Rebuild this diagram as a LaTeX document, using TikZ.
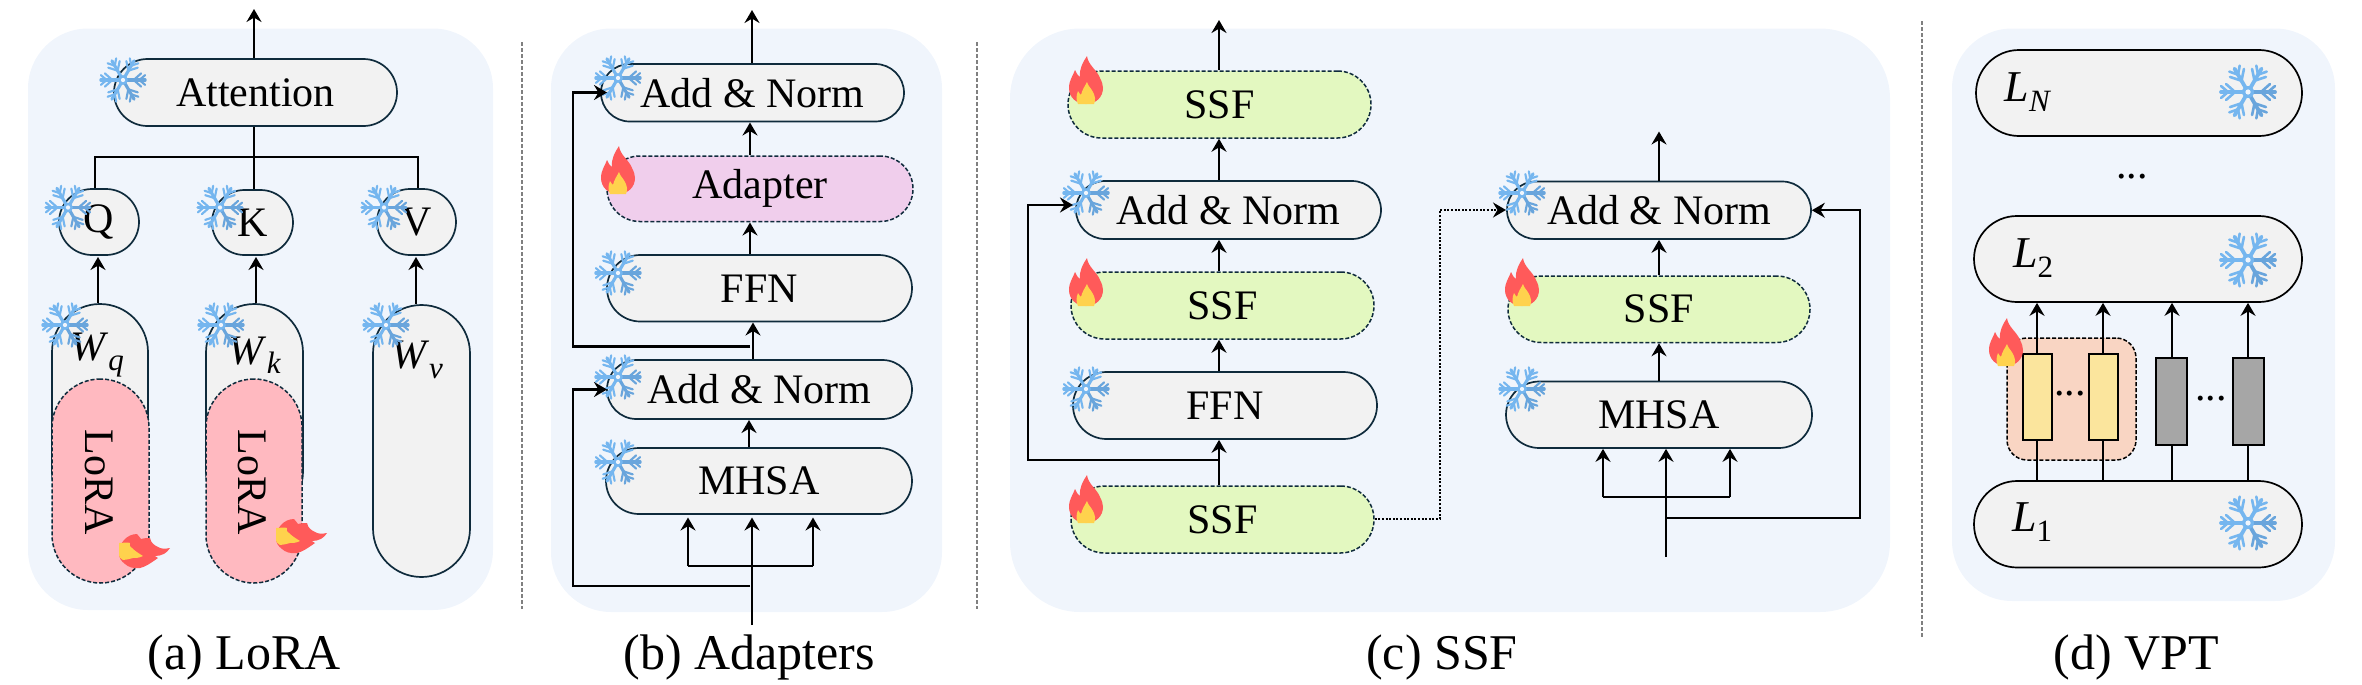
\documentclass[tikz,border=0pt]{standalone}
\usepackage{fontspec}
\setmainfont{Liberation Serif}
\usetikzlibrary{arrows.meta}
\definecolor{panelc}{HTML}{F0F5FC}
\definecolor{grayc}{HTML}{F2F2F2}
\definecolor{linec}{HTML}{0F2B3C}
\definecolor{lorac}{HTML}{FFB9C0}
\definecolor{adapc}{HTML}{F0CEEC}
\definecolor{ssfc}{HTML}{E3F8C0}
\definecolor{promptc}{HTML}{F9D5C3}
\definecolor{yellowc}{HTML}{FBE59D}
\definecolor{darkc}{HTML}{A6A6A6}
\definecolor{snowa}{HTML}{75B6EF}
\definecolor{snowb}{HTML}{69A5DC}
\definecolor{firea}{HTML}{FF5A5A}
\definecolor{fireb}{HTML}{FFD24D}
\definecolor{divc}{HTML}{808080}
\tikzset{
  panel/.style={fill=panelc,draw=none},
  frozen/.style={draw=linec,fill=grayc,line width=0.85pt,font=\fontsize{21}{24}\selectfont},
  train/.style={draw=linec,line width=0.75pt,dash pattern=on 2pt off 1pt,font=\fontsize{21}{24}\selectfont},
  plain/.style={inner sep=0pt,font=\fontsize{21}{24}\selectfont},
  caption/.style={inner sep=0pt,anchor=base,font=\fontsize{25}{28}\selectfont},
  arr/.style={-{Stealth[length=6.5pt,width=7.5pt,inset=2.2pt]},line width=1.05pt,black},
  conn/.style={line width=1.05pt,black},
  divider/.style={draw=divc,line width=1.4pt,dash pattern=on 2pt off 1pt},
  token/.style={draw=black,line width=1pt,inner sep=0pt},
}
\newcommand\pill[7]{%
  \pgfmathsetmacro\pilw{(#5-#3)*0.5}\pgfmathsetmacro\pilh{(#6-#4)*0.5}%
  \pgfmathsetmacro\pilr{min(\pilw,\pilh)/2}%
  \node[#1,rectangle,rounded corners=\pilr pt,minimum width=\pilw pt,minimum height=\pilh pt,inner sep=0pt] (#2) at ({(#3+#5)/2},{(#4+#6)/2}) {\raisebox{-0.8pt}{#7}};}
\newcommand\tok[6]{%
  \pgfmathsetmacro\pilw{(#5-#3)*0.5}\pgfmathsetmacro\pilh{(#6-#4)*0.5}%
  \node[token,fill=#1,minimum width=\pilw pt,minimum height=\pilh pt] (#2) at ({(#3+#5)/2},{(#4+#6)/2}) {};}
\newcommand\snow[3]{%
  \pgfmathsetmacro\snf{#3/28}\pgfmathsetmacro\snw{1.9*\snf}\pgfmathsetmacro\snv{1.3*\snf}%
  \begin{scope}[shift={(#1,#2)},scale=\snf,line cap=round]
    \foreach \a/\c in {60/snowa,120/snowa,180/snowa,240/snowa,300/snowb,0/snowb}{
      \begin{scope}[rotate=\a]
        \draw[\c,line width=\snw pt] (0,0) -- (27,0);
        \draw[\c,line width=\snv pt] (13,0) -- (22,8) (13,0) -- (22,-8) (20,0) -- (27,6) (20,0) -- (27,-6);
      \end{scope}}
    \fill[snowa] (0,0) circle (6);
    \fill[panelc] (0,0) circle (2.6);
  \end{scope}}
\newcommand\flame[2]{%
  \begin{scope}[shift={(#1,#2)}]
    \fill[firea] (0,24) .. controls (-10,24) and (-17,17) .. (-17,8) .. controls (-17,0) and (-13,-4) .. (-11,-10) .. controls (-9,-6) and (-8,-4) .. (-6,-3) .. controls (-7,-11) and (-3,-18) .. (1,-24) .. controls (2,-15) and (11,-10) .. (14,-2) .. controls (16,2) and (17,5) .. (17,8) .. controls (17,17) and (10,24) .. (0,24) -- cycle;
    \fill[fireb] (-8,24) .. controls (-10,20) and (-10,16) .. (-8,11) .. controls (-7,13) and (-6,14) .. (-5,15) .. controls (-4,10) and (-1,6) .. (1,2) .. controls (2,6) and (5,8) .. (7,12) .. controls (9,16) and (10,20) .. (8,24) -- cycle;
  \end{scope}}
\newcommand\comet[2]{%
  \begin{scope}[shift={(#1,#2)}]
    \fill[firea] (-26,0) .. controls (-26,-10) and (-18,-19) .. (-8,-19) .. controls (-6,-17) and (-5,-15) .. (-4,-14) .. controls (0,-15) and (2,-15) .. (5,-15) .. controls (6,-10) and (9,-8) .. (13,-6) .. controls (16,-4) and (20,-4) .. (25,-5) .. controls (22,0) and (17,3) .. (10,3) .. controls (11,4) and (12,4) .. (13,5) .. controls (6,10) and (0,14) .. (-5,15) .. controls (-11,16) and (-17,14) .. (-20,11) .. controls (-24,8) and (-26,5) .. (-26,0) -- cycle;
    \fill[fireb] (-26,-10) .. controls (-22,-10) and (-18,-11) .. (-15,-10) .. controls (-16,-8) and (-15,-6) .. (-13,-5) .. controls (-9,-1) and (-5,1) .. (-2,3) .. controls (-6,5) and (-9,5) .. (-12,5) .. controls (-16,6) and (-19,7) .. (-22,7) .. controls (-25,6) and (-26,4) .. (-26,0) -- cycle;
  \end{scope}}
\newcommand\mysub[1]{\raisebox{-0.22em}{\fontsize{15.5}{18}\selectfont #1}}
\begin{document}
\begin{tikzpicture}[x=0.5pt,y=-0.5pt]
\useasboundingbox (0,0) rectangle (2362,685);
% panels
\path[panel] (28,28.5) [rounded corners=30pt] rectangle (493,610);
\path[panel] (551,28.5) [rounded corners=30pt] rectangle (942,612);
\path[panel] (1010,28.5) [rounded corners=35pt] rectangle (1890,612);
\path[panel] (1952,28.5) [rounded corners=30pt] rectangle (2335,601);
% dividers
\coordinate (d1a) at (522,42); \coordinate (d1b) at (522,609);
\coordinate (d2a) at (977,42); \coordinate (d2b) at (977,609);
\coordinate (d3a) at (1922,21); \coordinate (d3b) at (1922,638);
\draw[divider] (d1a) -- (d1b);
\draw[divider] (d2a) -- (d2b);
\draw[divider] (d3a) -- (d3b);
% (a) LoRA
\pill{frozen}{att}{114}{59}{397}{126}{Attention}
\pill{frozen}{q}{59}{189}{139}{255}{Q}
\pill{frozen}{k}{212}{190}{293}{255}{K}
\pill{frozen}{v}{377}{189}{456}{255}{V}
\pill{frozen}{wq}{52}{304}{148}{520}{}
\pill{frozen}{wk}{206}{304}{303}{520}{}
\pill{frozen}{wv}{373}{305}{470}{577}{}
\pill{train,fill=lorac}{la}{52}{379}{149}{583}{}
\pill{train,fill=lorac}{lb}{206}{379}{302}{583}{}
\node[plain,rotate=-90] (lat) at (99,482) {LoRA};
\node[plain,rotate=-90] (lbt) at (252,482) {LoRA};
\node[plain] (wqt) at (97,355) {\textit{W}\mysub{\textit{q}}};
\node[plain] (wkt) at (255,355) {\textit{W}\mysub{\textit{k}}};
\node[plain] (wvt) at (417,360) {\textit{W}\mysub{\textit{v}}};
\snow{123}{80}{23}
\snow{68}{207.5}{23}
\snow{220}{207.5}{23}
\snow{384}{207.5}{23}
\snow{65}{325}{23}
\snow{221}{325}{23}
\snow{386}{325}{23}
\comet{145}{553}
\comet{302}{538}
\coordinate (atop) at (254,9);
\coordinate (hq) at (95,156.6);
\coordinate (hv) at (418,156.6);
\draw[arr] (att.north -| atop) -- (atop);
\draw[conn] (att.south -| atop) -- (k.north -| atop);
\draw[conn] (q.north -| hq) -- (hq) -- (hv) -- (v.north -| hv);
\draw[arr] (wq.north -| 98,0) -- (98,257);
\draw[arr] (wk.north -| 256,0) -- (256,257);
\draw[arr] (wv.north -| 416,0) -- (416,257);
% (b) Adapters
\pill{frozen}{ban}{601}{64}{904}{121.5}{Add \& Norm}
\pill{train,fill=adapc}{bad}{607}{156}{913}{221.5}{Adapter}
\pill{frozen}{bff}{607}{255}{912}{321.5}{FFN}
\pill{frozen}{bam}{607}{360}{912}{419}{Add \& Norm}
\pill{frozen}{bmh}{606}{448}{912}{514}{MHSA}
\snow{618}{78}{23}
\snow{618}{273}{23}
\snow{618}{377}{23}
\snow{618}{462}{23}
\flame{618}{170}
\coordinate (btop) at (752,10);
\coordinate (bin) at (752,625);
\coordinate (bmid1) at (750,346.5);
\coordinate (bl1) at (573,346.5);
\coordinate (bt1) at (607,92.5);
\coordinate (bmid2) at (750,586);
\coordinate (bl2) at (573,586);
\coordinate (bt2) at (607,389.5);
\coordinate (bbl) at (688,566);
\coordinate (bbr) at (813,566);
\draw[arr] (ban.north -| btop) -- (btop);
\draw[arr] (bad.north -| 750,0) -- (750,122.5);
\draw[arr] (bff.north -| 750,0) -- (750,222.5);
\draw[arr] (bam.north -| 753,0) -- (753,322.5);
\draw[arr] (bmh.north -| 749,0) -- (749,420);
\draw[arr] (bmid1) -- (bl1) |- (bt1);
\draw[arr] (bmid2) -- (bl2) |- (bt2);
\draw[arr,line width=1.3pt] (bin) -- (752,517.5);
\draw[arr,line width=1.3pt] (bbr) -- (813,517.5);
\draw[arr,line width=1.3pt] (bbl) -- (688,517.5);
\draw[conn,line width=1.3pt] (bbl) -- (bbr);
% (c) SSF
\pill{train,fill=ssfc}{cs1}{1068}{71}{1371}{138}{SSF}
\pill{frozen}{can}{1076}{181}{1381}{239}{Add \& Norm}
\pill{train,fill=ssfc}{cs2}{1071}{272}{1374}{339}{SSF}
\pill{frozen}{cff}{1073}{372}{1377}{439}{FFN}
\pill{train,fill=ssfc}{cs3}{1071}{486}{1374}{553}{SSF}
\pill{frozen}{ran}{1507}{181.5}{1811}{239}{Add \& Norm}
\pill{train,fill=ssfc}{rs}{1508}{276}{1810}{342.5}{SSF}
\pill{frozen}{rmh}{1506}{381.5}{1812}{448}{MHSA}
\snow{1086}{193}{23}
\snow{1086}{389}{23}
\snow{1522}{193}{23}
\snow{1522}{389}{23}
\flame{1086}{80}
\flame{1086}{282}
\flame{1086}{499}
\flame{1522}{282}
\coordinate (ctop) at (1219,20);
\coordinate (rtop) at (1659,131.5);
\coordinate (cm) at (1219,460);
\coordinate (cl) at (1028,460);
\coordinate (ct) at (1073,205);
\coordinate (dx) at (1440,519);
\coordinate (dt) at (1506,210);
\coordinate (rin) at (1666,557);
\coordinate (rbl) at (1603,497);
\coordinate (rbr) at (1730,497);
\coordinate (rm) at (1666,518);
\coordinate (rx) at (1860,518);
\draw[arr] (cs1.north -| ctop) -- (ctop);
\draw[arr] (can.north -| ctop) -- (cs1.south -| ctop);
\draw[arr] (cs2.north -| ctop) -- (can.south -| ctop);
\draw[arr] (cff.north -| ctop) -- (cs2.south -| ctop);
\draw[arr] (cs3.north -| ctop) -- (cff.south -| ctop);
\draw[arr] (cm) -- (cl) |- (ct);
\draw[line width=0.9pt,dash pattern=on 1pt off 0.8pt,-{Stealth[length=6.5pt,width=7.5pt,inset=2.2pt]}] (cs3.east |- dx) -- (dx) |- (dt);
\draw[arr] (ran.north -| rtop) -- (rtop);
\draw[arr] (rs.north -| rtop) -- (ran.south -| rtop);
\draw[arr] (rmh.north -| rtop) -- (rs.south -| rtop);
\draw[arr] (rin) -- (rmh.south -| rin);
\draw[arr] (rbl) -- (rmh.south -| rbl);
\draw[arr] (rbr) -- (rmh.south -| rbr);
\draw[conn] (rbl) -- (rbr);
\draw[arr] (rm) -- (rx) |- (ran.east);
% (d) VPT
\pill{frozen,draw=black}{ln}{1976}{50}{2302}{136}{}
\pill{frozen,draw=black}{ltwo}{1974}{216}{2302}{302}{}
\pill{frozen,draw=black}{lone}{1974}{481}{2302}{567.5}{}
\node[draw=black,line width=0.75pt,dash pattern=on 2pt off 1pt,fill=promptc,rounded corners=10pt,inner sep=0pt,minimum width=64.5pt,minimum height=61pt] (pr) at (2071.5,399) {};
\tok{yellowc}{y1}{2023}{354}{2052}{440}
\tok{yellowc}{y2}{2089}{354}{2118}{440}
\tok{darkc}{g1}{2156}{358}{2187}{445}
\tok{darkc}{g2}{2233}{358}{2264}{445}
\node[plain,font=\fontsize{22}{26}\selectfont] (lnt) at (2028,92) {\textit{L}\mysub{\textit{N}}};
\node[plain,font=\fontsize{22}{26}\selectfont] (ltt) at (2033,258) {\textit{L}\mysub{2}};
\node[plain,font=\fontsize{22}{26}\selectfont] (lot) at (2032,522) {\textit{L}\mysub{1}};
\node[plain] (d1) at (2132,177) {...};
\node[plain] (d2) at (2070,394) {...};
\node[plain] (d3) at (2211,399) {...};
\snow{2248}{92}{28}
\snow{2248}{260}{28}
\snow{2248}{523}{28}
\flame{2006}{342}
\foreach \n/\x in {y1/2037,y2/2103,g1/2172,g2/2248}{
  \draw[conn] (lone.north -| \x,0) -- (\n.south -| \x,0);
  \draw[arr] (\n.north -| \x,0) -- (ltwo.south -| \x,0);
}
% captions
\node[caption] (ca) at (244,669) {(a) LoRA};
\node[caption] (cb) at (749,669) {(b) Adapters};
\node[caption] (cc) at (1442,669) {(c) SSF};
\node[caption] (cd) at (2136,669) {(d) VPT};
\end{tikzpicture}
\end{document}
